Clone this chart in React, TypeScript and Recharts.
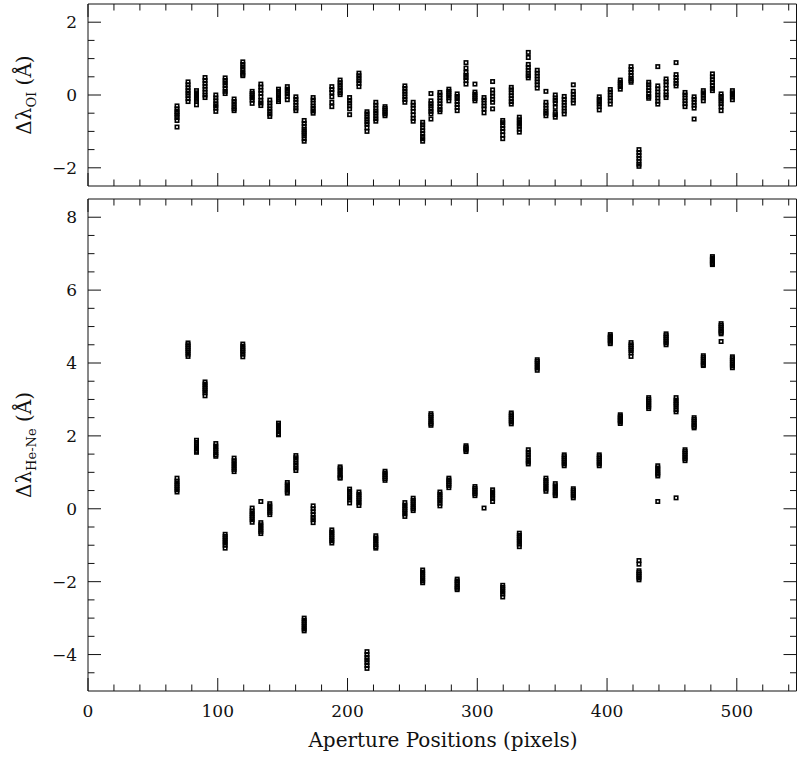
// Two stacked scatter panels: O I and He-Ne wavelength offsets vs aperture position
import { ScatterChart, Scatter, XAxis, YAxis } from 'recharts';

const apertures = [
  68.6, 77.1, 83.6, 90.2, 98.5, 105.7, 112.6, 119.3, 126.5, 133.2, 140.1, 146.8, 153.6, 160.2, 166.6,
  173.5, 187.9, 194.3, 201.6, 208.8, 215, 221.8, 228.9, 244.2, 250.6, 257.9, 264.3, 271.2, 278.1,
  284.5, 291.3, 298.2, 305.2, 311.8, 319.6, 326.2, 332.4, 339.3, 346.2, 352.9, 360.1, 367, 374, 394,
  402.5, 410.2, 418.5, 424.6, 432.1, 439.1, 445.5, 453.2, 460.1, 467.1, 474.2, 481.2, 487.9, 496.6,
];

// offsets measured on the O I line, one list per aperture
const oiOffsets: number[][] = [
  [-0.3, -0.38, -0.45, -0.5, -0.56, -0.62, -0.7, -0.88],
  [0.36, 0.28, 0.2, 0.12, 0.05, -0.02, -0.1, -0.18],
  [0.12, 0.06, 0, -0.06, -0.12, -0.18, -0.27],
  [0.48, 0.4, 0.32, 0.24, 0.16, 0.08, 0, -0.07],
  [0, -0.08, -0.16, -0.24, -0.3, -0.36, -0.45],
  [0.47, 0.4, 0.33, 0.26, 0.18, 0.1, 0.04],
  [-0.11, -0.18, -0.25, -0.32, -0.38, -0.43],
  [0.91, 0.84, 0.77, 0.7, 0.63, 0.57, 0.53],
  [0.1, 0.04, -0.02, -0.08, -0.14, -0.23],
  [0.3, 0.22, 0.13, 0.05, -0.05, -0.15, -0.22, -0.29],
  [-0.14, -0.22, -0.3, -0.38, -0.45, -0.52, -0.59],
  [0.16, 0.1, 0.04, -0.02, -0.08, -0.13, -0.18],
  [0.23, 0.16, 0.1, 0.03, -0.04, -0.13],
  [-0.05, -0.12, -0.2, -0.28, -0.36, -0.43],
  [-0.7, -0.78, -0.86, -0.94, -1.0, -1.06, -1.12, -1.2, -1.27],
  [-0.07, -0.14, -0.22, -0.3, -0.37, -0.44, -0.5],
  [0.23, 0.15, 0.07, -0.05, -0.2, -0.32],
  [0.41, 0.34, 0.27, 0.2, 0.13, 0.06, 0.01],
  [-0.07, -0.15, -0.22, -0.3, -0.38, -0.54],
  [0.6, 0.53, 0.46, 0.39, 0.32, 0.23],
  [-0.46, -0.52, -0.6, -0.66, -0.74, -0.8, -0.9, -1.0],
  [-0.2, -0.28, -0.36, -0.44, -0.5, -0.58, -0.65, -0.72],
  [-0.32, -0.37, -0.42, -0.47, -0.52, -0.57],
  [0.25, 0.18, 0.1, 0.03, -0.05, -0.12, -0.2],
  [-0.2, -0.28, -0.36, -0.45, -0.55, -0.64, -0.72],
  [-0.75, -0.82, -0.9, -0.98, -1.06, -1.14, -1.2, -1.27],
  [0.04, -0.16, -0.24, -0.3, -0.38, -0.45, -0.52, -0.66],
  [0.07, 0, -0.08, -0.16, -0.24, -0.32, -0.4, -0.46],
  [0.16, 0.1, 0.04, -0.02, -0.08, -0.16],
  [0.03, -0.04, -0.1, -0.18, -0.26, -0.34, -0.43],
  [0.89, 0.74, 0.62, 0.54, 0.48, 0.4, 0.3],
  [0.3, 0.08, 0.02, -0.04, -0.1, -0.16],
  [-0.07, -0.14, -0.22, -0.3, -0.38, -0.49],
  [0.37, 0.14, 0.05, -0.03, -0.12, -0.2, -0.38],
  [-0.7, -0.76, -0.84, -0.92, -1.0, -1.1, -1.2],
  [0.21, 0.14, 0.06, -0.02, -0.1, -0.18, -0.25],
  [-0.61, -0.68, -0.74, -0.8, -0.86, -0.94, -1.02],
  [1.17, 1.03, 0.84, 0.76, 0.68, 0.6, 0.53, 0.47],
  [0.68, 0.6, 0.52, 0.44, 0.36, 0.28, 0.19],
  [0.1, -0.2, -0.28, -0.36, -0.44, -0.5, -0.57],
  [0, -0.08, -0.15, -0.22, -0.34, -0.48, -0.54, -0.61],
  [-0.04, -0.12, -0.2, -0.28, -0.36, -0.44, -0.52],
  [0.28, 0.1, 0.02, -0.06, -0.14, -0.22],
  [-0.05, -0.12, -0.18, -0.25, -0.32, -0.41],
  [0.15, 0.08, 0, -0.08, -0.16, -0.25],
  [0.41, 0.35, 0.29, 0.23, 0.16],
  [0.78, 0.7, 0.62, 0.54, 0.46, 0.4, 0.35],
  [-1.5, -1.58, -1.66, -1.74, -1.82, -1.9, -1.96],
  [0.35, 0.28, 0.2, 0.12, 0.04, -0.04, -0.09],
  [0.78, 0.25, 0.17, 0.08, 0, -0.08, -0.17, -0.25],
  [0.44, 0.36, 0.28, 0.18, 0.08, 0, -0.07],
  [0.89, 0.56, 0.48, 0.4, 0.32, 0.25],
  [0.07, 0, -0.08, -0.16, -0.24, -0.32],
  [-0.05, -0.12, -0.2, -0.28, -0.36, -0.66],
  [0.12, 0.06, -0.01, -0.08, -0.16],
  [0.58, 0.5, 0.42, 0.34, 0.26, 0.18, 0.12],
  [0.03, -0.04, -0.1, -0.17, -0.24, -0.32, -0.43],
  [0.12, 0.06, 0, -0.06, -0.13],
];

// offsets measured on the He-Ne lamp lines, one list per aperture
const heNeOffsets: number[][] = [
  [0.84, 0.76, 0.7, 0.64, 0.58, 0.52, 0.46],
  [4.55, 4.5, 4.45, 4.4, 4.35, 4.3, 4.24, 4.18],
  [1.88, 1.82, 1.76, 1.7, 1.64, 1.58, 1.55],
  [3.48, 3.42, 3.36, 3.3, 3.24, 3.18, 3.1],
  [1.79, 1.72, 1.66, 1.6, 1.54, 1.48, 1.44],
  [-0.7, -0.76, -0.82, -0.88, -0.94, -1.0, -1.08],
  [1.39, 1.32, 1.26, 1.2, 1.14, 1.08, 1.02],
  [4.52, 4.46, 4.4, 4.35, 4.3, 4.24, 4.17],
  [0.02, -0.06, -0.12, -0.18, -0.24, -0.3, -0.37],
  [0.2, -0.38, -0.44, -0.5, -0.56, -0.62, -0.68],
  [0.14, 0.08, 0.02, -0.04, -0.1, -0.16],
  [2.35, 2.3, 2.24, 2.18, 2.12, 2.06, 2.03],
  [0.72, 0.66, 0.6, 0.54, 0.48, 0.43],
  [1.46, 1.4, 1.33, 1.26, 1.19, 1.12, 1.05],
  [-3.0, -3.06, -3.12, -3.18, -3.24, -3.3, -3.35],
  [0.08, 0, -0.08, -0.16, -0.24, -0.3, -0.38],
  [-0.58, -0.64, -0.7, -0.76, -0.82, -0.88, -0.94],
  [1.15, 1.1, 1.04, 0.98, 0.92, 0.86, 0.84],
  [0.54, 0.48, 0.42, 0.36, 0.3, 0.24, 0.16],
  [0.46, 0.4, 0.34, 0.28, 0.22, 0.16, 0.09],
  [-3.92, -4.0, -4.08, -4.15, -4.22, -4.3, -4.38],
  [-0.74, -0.8, -0.86, -0.92, -0.98, -1.04, -1.08],
  [1.03, 0.98, 0.93, 0.88, 0.83, 0.78],
  [0.17, 0.1, 0.04, -0.02, -0.08, -0.14, -0.21],
  [0.29, 0.23, 0.17, 0.11, 0.05, 0, -0.05],
  [-1.68, -1.74, -1.8, -1.86, -1.92, -1.98, -2.03],
  [2.61, 2.56, 2.5, 2.44, 2.38, 2.33, 2.29],
  [0.46, 0.4, 0.34, 0.28, 0.22, 0.15, 0.08],
  [0.84, 0.79, 0.74, 0.69, 0.64, 0.58],
  [-1.93, -1.98, -2.03, -2.08, -2.14, -2.18, -2.22],
  [1.73, 1.69, 1.65, 1.61, 1.57],
  [0.61, 0.56, 0.51, 0.46, 0.41, 0.36],
  [0.02],
  [0.52, 0.46, 0.4, 0.34, 0.28, 0.2],
  [-2.1, -2.16, -2.22, -2.28, -2.34, -2.42],
  [2.63, 2.58, 2.53, 2.48, 2.43, 2.38, 2.33],
  [-0.67, -0.73, -0.79, -0.85, -0.91, -0.97, -1.04],
  [1.62, 1.55, 1.48, 1.41, 1.34, 1.28, 1.23],
  [4.09, 4.04, 3.98, 3.92, 3.86, 3.8],
  [0.84, 0.78, 0.72, 0.66, 0.6, 0.54, 0.48],
  [0.69, 0.63, 0.57, 0.51, 0.45, 0.4, 0.36],
  [1.48, 1.43, 1.38, 1.33, 1.28, 1.23, 1.18],
  [0.55, 0.5, 0.45, 0.4, 0.35, 0.3],
  [1.48, 1.43, 1.38, 1.33, 1.28, 1.23, 1.18],
  [4.78, 4.74, 4.7, 4.66, 4.62, 4.57, 4.53],
  [2.58, 2.54, 2.5, 2.46, 2.42, 2.38, 2.34],
  [4.56, 4.5, 4.45, 4.4, 4.34, 4.28, 4.18],
  [-1.42, -1.52, -1.7, -1.75, -1.8, -1.85, -1.9, -1.95],
  [3.05, 3.0, 2.95, 2.9, 2.85, 2.8, 2.75],
  [1.18, 1.12, 1.06, 1.0, 0.95, 0.9, 0.2],
  [4.8, 4.75, 4.7, 4.65, 4.6, 4.55, 4.5],
  [3.05, 2.98, 2.92, 2.86, 2.8, 2.72, 2.66, 0.3],
  [1.62, 1.57, 1.52, 1.47, 1.42, 1.37, 1.32],
  [2.5, 2.45, 2.4, 2.35, 2.3, 2.26, 2.22],
  [4.2, 4.15, 4.1, 4.05, 4.0, 3.96, 3.93],
  [6.92, 6.88, 6.84, 6.8, 6.76, 6.72, 6.7],
  [5.08, 5.03, 4.98, 4.93, 4.88, 4.84, 4.8, 4.59],
  [4.17, 4.12, 4.07, 4.02, 3.97, 3.92, 3.87],
];

const xTicks = [0, 20, 40, 60, 80, 100, 120, 140, 160, 180, 200, 220, 240, 260, 280, 300, 320, 340, 360, 380, 400, 420, 440, 460, 480, 500, 520, 540];
const oiTicks = [-2, -1.5, -1, -0.5, 0, 0.5, 1, 1.5, 2];
const heNeTicks = [-4.5, -4, -3.5, -3, -2.5, -2, -1.5, -1, -0.5, 0, 0.5, 1, 1.5, 2, 2.5, 3, 3.5, 4, 4.5, 5, 5.5, 6, 6.5, 7, 7.5, 8];

const toPoints = (sets: number[][]) => apertures.flatMap((x, i) => sets[i].map((y) => ({ x, y })));
const oiData = toPoints(oiOffsets);
const heNeData = toPoints(heNeOffsets);

const FONT = '"DejaVu Serif", "Liberation Serif", serif';
const INK = '#111';
const X_DOMAIN: [number, number] = [0, 546];

const fmt = (v: number) => (v < 0 ? `\u2212${Math.abs(v)}` : `${v}`);
const isXMajor = (v: number) => v % 100 === 0;
const isYMajor = (v: number) => Math.abs(v % 2) < 1e-6;

// ticks point into the frame, labels sit outside it
const makeTick =
  (side: 'bottom' | 'top' | 'left' | 'right', isMajor: (v: number) => boolean, showLabel: boolean) =>
  (props: any) => {
    const { x, y, payload } = props;
    const v = payload.value as number;
    const major = isMajor(v);
    const len = major ? 13 : 6.5;
    let line;
    if (side === 'bottom') line = <line x1={x} y1={y} x2={x} y2={y - len} stroke={INK} />;
    else if (side === 'top') line = <line x1={x} y1={y} x2={x} y2={y + len} stroke={INK} />;
    else if (side === 'left') line = <line x1={x} y1={y} x2={x + len} y2={y} stroke={INK} />;
    else line = <line x1={x} y1={y} x2={x - len} y2={y} stroke={INK} />;
    let label = null;
    if (showLabel && major) {
      if (side === 'bottom')
        label = (
          <text x={x} y={y + 26} textAnchor="middle" fontFamily={FONT} fontSize={17} fill={INK}>
            {fmt(v)}
          </text>
        );
      else if (side === 'left')
        label = (
          <text x={x - 11} y={y + 6} textAnchor="end" fontFamily={FONT} fontSize={17} fill={INK}>
            {fmt(v)}
          </text>
        );
    }
    return (
      <g>
        {line}
        {label}
      </g>
    );
  };

const Square = (props: any) => (
  <rect x={props.cx - 1.7} y={props.cy - 1.7} width={3.4} height={3.4} fill="none" stroke="#000" strokeWidth={1.6} />
);

const yLabel = (cy: number, sub: string) => () => (
  <text transform={`rotate(-90, 31, ${cy})`} x={31} y={cy} textAnchor="middle" fontFamily={FONT} fontSize={20} fill={INK}>
    Δλ
    <tspan fontSize={13} dy={5}>
      {sub}
    </tspan>
    <tspan dy={-5}> (Å)</tspan>
  </text>
);

function Panel({
  top, height, marginTop, marginBottom, data, yDomain, yTicks, sub, labelY, showX,
}: {
  top: number; height: number; marginTop: number; marginBottom: number; data: { x: number; y: number }[];
  yDomain: [number, number]; yTicks: number[]; sub: string; labelY: number; showX: boolean;
}) {
  return (
    <div style={{ position: 'absolute', left: 0, top }}>
      <ScatterChart width={797} height={height} margin={{ top: marginTop - 1, bottom: marginBottom - 1, left: 87, right: 0 }}>
        <XAxis
          xAxisId="b" orientation="bottom" type="number" dataKey="x" domain={X_DOMAIN} allowDataOverflow
          ticks={xTicks} interval={0} height={1} tickSize={0} tickMargin={0} tickLine={false}
          axisLine={{ stroke: INK }} tick={makeTick('bottom', isXMajor, showX)}
          label={
            showX
              ? () => (
                  <text x={443} y={height - 10} textAnchor="middle" fontFamily={FONT} fontSize={20} fill={INK}>
                    Aperture Positions (pixels)
                  </text>
                )
              : undefined
          }
        />
        <XAxis
          xAxisId="t" orientation="top" type="number" dataKey="x" domain={X_DOMAIN} allowDataOverflow
          ticks={xTicks} interval={0} height={1} tickSize={0} tickMargin={0} tickLine={false}
          axisLine={{ stroke: INK }} tick={makeTick('top', isXMajor, false)}
        />
        <YAxis
          yAxisId="l" orientation="left" type="number" dataKey="y" domain={yDomain} allowDataOverflow
          ticks={yTicks} interval={0} width={1} tickSize={0} tickMargin={0} tickLine={false}
          axisLine={{ stroke: INK }} tick={makeTick('left', isYMajor, true)} label={yLabel(labelY, sub)}
        />
        <YAxis
          yAxisId="r" orientation="right" type="number" dataKey="y" domain={yDomain} allowDataOverflow
          ticks={yTicks} interval={0} width={0.5} tickSize={0} tickMargin={0} tickLine={false}
          axisLine={{ stroke: INK }} tick={makeTick('right', isYMajor, false)}
        />
        <Scatter data={data} xAxisId="b" yAxisId="l" shape={Square} isAnimationActive={false} />
        <Scatter data={data} xAxisId="t" yAxisId="r" shape={() => <g />} isAnimationActive={false} />
      </ScatterChart>
    </div>
  );
}

export default function App() {
  return (
    <div style={{ position: 'absolute', left: 0, top: 0, width: 797, height: 757, background: '#fff' }}>
      <Panel top={0} height={200} marginTop={4} marginBottom={14} data={oiData} yDomain={[-2.5, 2.5]} yTicks={oiTicks} sub="OI" labelY={95} showX={false} />
      <Panel top={190} height={567} marginTop={9} marginBottom={66} data={heNeData} yDomain={[-5, 8.5]} yTicks={heNeTicks} sub="He-Ne" labelY={255} showX />
    </div>
  );
}
